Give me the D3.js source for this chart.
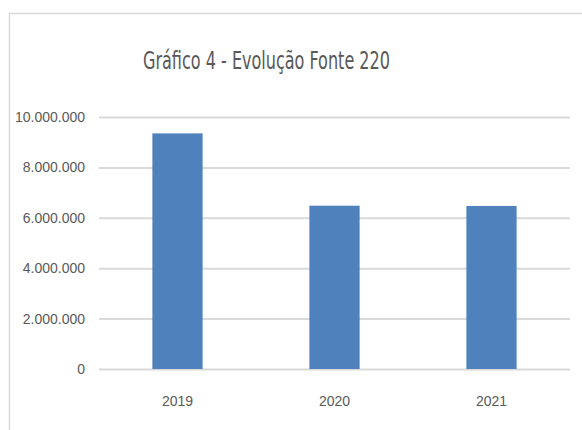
<!DOCTYPE html>
<html>
<head>
<meta charset="utf-8">
<script src="https://cdn.jsdelivr.net/npm/d3@7.9.0/dist/d3.min.js"></script>
<style>
  body { margin: 0; background: #fff; }
  svg { display: block; font-family: "Liberation Sans Narrow", "DejaVu Sans Condensed", sans-serif; }
</style>
</head>
<body>
<svg id="chart" width="582" height="430"></svg>
<script>
// chart data
const years = ["2019", "2020", "2021"];
const values = [9350000, 6480000, 6470000];
const yTicks = [0, 2000000, 4000000, 6000000, 8000000, 10000000];
const title = "Gráfico 4 - Evolução Fonte 220";

const svg = d3.select("#chart");

// outer frame of the chart area (runs off the right / bottom edge)
svg.append("rect")
  .attr("x", 9.5)
  .attr("y", 13.5)
  .attr("width", 600)
  .attr("height", 440)
  .attr("fill", "#fff")
  .attr("stroke", "#d9d9d9")
  .attr("stroke-width", 1.5);

const plot = { left: 99, right: 570, top: 117, bottom: 369 };

const x = d3.scaleBand()
  .domain(years)
  .range([plot.left, plot.right])
  .paddingInner(0.68)
  .paddingOuter(0.34);

const y = d3.scaleLinear()
  .domain([0, 10000000])
  .range([plot.bottom, plot.top]);

// number format pt-BR: 10.000.000
const fmt = d3.formatLocale({ decimal: ",", thousands: ".", grouping: [3], currency: ["R$", ""] }).format(",d");

// gridlines + y labels via axis
const yAxis = svg.append("g")
  .attr("transform", `translate(${plot.left},0)`)
  .call(d3.axisLeft(y).tickValues(yTicks).tickFormat(fmt)
    .tickSize(-(plot.right - plot.left)).tickPadding(14));

yAxis.select(".domain").remove();
yAxis.selectAll(".tick line")
  .attr("stroke", "#d9d9d9")
  .attr("stroke-width", 2);
yAxis.selectAll(".tick text")
  .attr("fill", "#595959")
  .attr("font-size", 14);

// bars
svg.append("g")
  .selectAll("rect")
  .data(years)
  .join("rect")
  .attr("x", d => x(d))
  .attr("width", x.bandwidth())
  .attr("y", (d, i) => y(values[i]))
  .attr("height", (d, i) => y(0) - y(values[i]))
  .attr("fill", "#4f81bd");

// x axis labels
const xAxis = svg.append("g")
  .attr("transform", `translate(0,${plot.bottom})`)
  .call(d3.axisBottom(x).tickSize(0).tickPadding(27));

xAxis.select(".domain").remove();
xAxis.selectAll(".tick text")
  .attr("fill", "#595959")
  .attr("font-size", 14);

// title (squeezed to the narrow width of the original font)
svg.append("text")
  .attr("x", 266.5)
  .attr("y", 69)
  .attr("text-anchor", "middle")
  .attr("fill", "#595959")
  .attr("font-size", 25)
  .attr("textLength", 247)
  .attr("lengthAdjust", "spacingAndGlyphs")
  .text(title);
</script>
</body>
</html>
